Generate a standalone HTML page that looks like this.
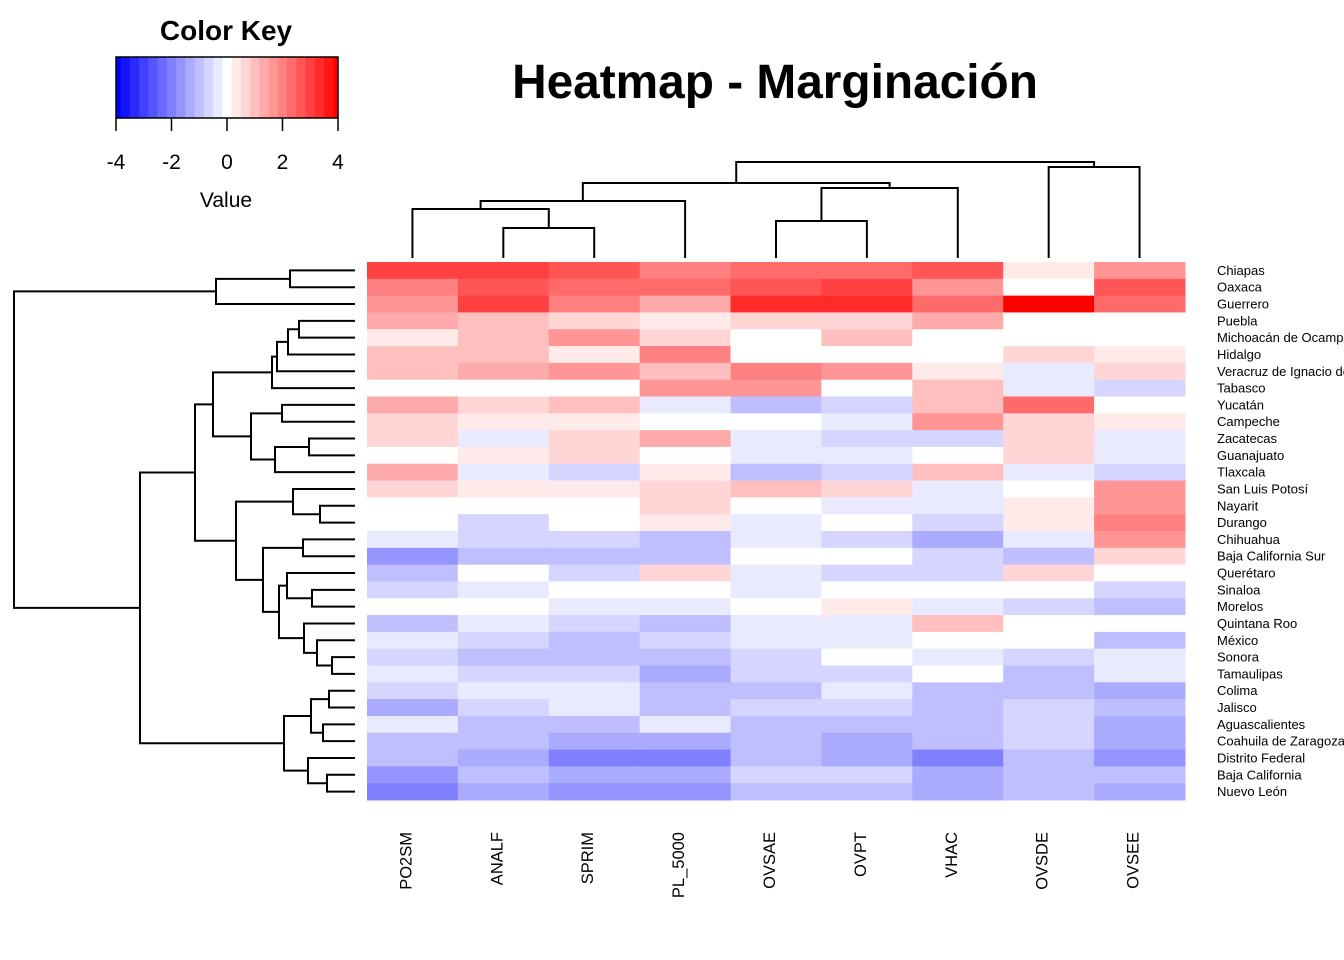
<!DOCTYPE html>
<html><head><meta charset="utf-8"><style>
html,body{margin:0;padding:0;background:#fff;}
svg{display:block;font-family:"Liberation Sans",Arial,sans-serif;}
</style></head><body>
<svg id="chart" width="1344" height="960" viewBox="0 0 1344 960" xmlns="http://www.w3.org/2000/svg">
<text x="775" y="98" font-size="47.8" font-weight="bold" text-anchor="middle">Heatmap - Marginación</text>
<g id="key"></g>
<g id="cells"></g>
<g id="coldend" stroke="#000" stroke-width="2" fill="none"></g>
<g id="rowdend" stroke="#000" stroke-width="2" fill="none"></g>
<g id="rowlabels"></g>
<g id="collabels"></g>
</svg>
<script>
const columns = ["PO2SM","ANALF","SPRIM","PL_5000","OVSAE","OVPT","VHAC","OVSDE","OVSEE"];
const rows = ["Chiapas","Oaxaca","Guerrero","Puebla","Michoacán de Ocampo","Hidalgo","Veracruz de Ignacio de la Llave","Tabasco","Yucatán","Campeche","Zacatecas","Guanajuato","Tlaxcala","San Luis Potosí","Nayarit","Durango","Chihuahua","Baja California Sur","Querétaro","Sinaloa","Morelos","Quintana Roo","México","Sonora","Tamaulipas","Colima","Jalisco","Aguascalientes","Coahuila de Zaragoza","Distrito Federal","Baja California","Nuevo León"];
const values = [
[3.0,3.0,2.67,2.0,2.33,2.33,2.67,0.33,1.67],
[2.0,2.67,2.33,2.33,2.67,3.0,1.67,0,2.67],
[1.67,3.0,2.0,1.33,3.33,3.33,2.33,4.0,2.33],
[1.33,1.0,0.67,0.33,0.67,0.67,1.33,0,0],
[0.33,1.0,1.67,0.67,0,1.0,0,0,0],
[1.0,1.0,0.33,2.0,0,0,0,0.67,0.33],
[1.0,1.33,1.67,1.0,2.0,1.67,0.33,-0.33,0.67],
[0,0,0,1.67,1.67,0,1.0,-0.33,-0.67],
[1.33,0.67,1.0,-0.33,-1.0,-0.67,1.0,2.33,0],
[0.67,0.33,0.33,0,0,-0.33,1.67,0.67,0.33],
[0.67,-0.33,0.67,1.33,-0.33,-0.67,-0.67,0.67,-0.33],
[0,0.33,0.67,0,-0.33,-0.33,0,0.67,-0.33],
[1.33,-0.33,-0.67,0.33,-1.0,-0.67,1.0,-0.33,-0.67],
[0.67,0.33,0.33,0.67,1.0,0.67,-0.33,0,1.67],
[0,0,0,0.67,0,-0.33,-0.33,0.33,1.67],
[0,-0.67,0,0.33,-0.33,0,-0.67,0.33,2.0],
[-0.33,-0.67,-0.67,-1.0,-0.33,-0.67,-1.33,-0.33,1.67],
[-1.6,-1.0,-1.0,-1.0,0,0,-0.67,-1.0,0.67],
[-1.0,0,-0.67,0.67,-0.33,-0.67,-0.67,0.67,0],
[-0.67,-0.33,0,0,-0.33,0,0,0,-0.67],
[0,0,-0.33,-0.33,0,0.33,-0.33,-0.67,-1.0],
[-1.0,-0.33,-0.67,-1.0,-0.33,-0.33,1.0,0,0],
[-0.33,-0.67,-1.0,-0.67,-0.33,-0.33,0,0,-1.0],
[-0.67,-1.0,-1.0,-1.0,-0.67,0,-0.33,-0.67,-0.33],
[-0.33,-0.67,-0.67,-1.33,-0.67,-0.67,0,-1.0,-0.33],
[-0.67,-0.33,-0.33,-1.0,-1.0,-0.33,-1.0,-1.0,-1.33],
[-1.33,-0.67,-0.33,-1.0,-0.67,-0.67,-1.0,-0.67,-1.0],
[-0.33,-1.0,-1.0,-0.33,-1.0,-1.0,-1.0,-0.67,-1.33],
[-1.0,-1.0,-1.33,-1.33,-1.0,-1.33,-1.0,-0.67,-1.33],
[-1.0,-1.33,-1.87,-2.1,-1.0,-1.33,-1.87,-1.0,-1.6],
[-1.6,-1.0,-1.33,-1.33,-0.67,-0.67,-1.33,-1.0,-1.0],
[-2.1,-1.33,-1.6,-1.6,-1.0,-1.0,-1.33,-1.0,-1.33]
];
const keyTicks = [-4,-2,0,2,4];
// Dendrogram trees: [left,right,height]; leaves are indices
const colTree = [[[[0,[1,2,228],209],3,201],[[4,5,221],6,188],183],[7,8,167],162];
const rA = [[[[3,4,299],5,288],6,277],7,272];
const rB = [[8,9,282],[[10,11,309],12,275],251];
const rC = [13,[14,15,320],293];
const rD = [[16,17,303],[[18,[19,20,312],287],[21,[22,[23,24,332],317],304],279],263];
const rLow = [[[25,26,329],[27,28,323],311],[29,[30,31,327],308],284];
const rowTree = [[[0,1,290],2,216],[[[rA,rB,213],[rC,rD,236],195],rLow,140],14];

const NS="http://www.w3.org/2000/svg";
const X0=367,X1=1185,Y0=262,Y1=800;
const cw=(X1-X0)/columns.length, rh=(Y1-Y0)/rows.length;
function xCol(i){return X0+cw*i;}
function yRow(i){return Y0+rh*i;}
function colorOf(v){
  let t=Math.min(12,Math.round(Math.abs(v)*3))/12;
  const c=Math.round(255*(1-t));
  return v>=0?`rgb(255,${c},${c})`:`rgb(${c},${c},255)`;
}
function mk(tag,attrs,parent){const e=document.createElementNS(NS,tag);for(const k in attrs)e.setAttribute(k,attrs[k]);parent.appendChild(e);return e;}

const cells=document.getElementById('cells');
values.forEach((r,i)=>r.forEach((v,j)=>{
  const e=mk('rect',{x:xCol(j),y:yRow(i),width:cw+0.5,height:rh+0.5,fill:colorOf(v)},cells);
  
  
}));

const rl=document.getElementById('rowlabels');
rows.forEach((n,i)=>{
  const t=mk('text',{x:1217,y:yRow(i)+rh/2+4.5,'font-size':13},rl);t.textContent=n;
  
  
});
const cl=document.getElementById('collabels');
columns.forEach((n,j)=>{
  const cx=xCol(j)+cw/2-1;
  const t=mk('text',{x:cx,y:832,'font-size':16.5,'text-anchor':'end',transform:`rotate(-90 ${cx} 832)`},cl);t.textContent=n;
  
  
});

const cd=document.getElementById('coldend');
function drawCol(n){
  if(typeof n==='number') return {x:xCol(n)+cw/2,y:258};
  const a=drawCol(n[0]),b=drawCol(n[1]),h=n[2];
  mk('path',{d:`M${a.x},${a.y}V${h}H${b.x}V${b.y}`},cd);
  return {x:(a.x+b.x)/2,y:h};
}
drawCol(colTree);
const rd=document.getElementById('rowdend');
function drawRow(n){
  if(typeof n==='number') return {y:yRow(n)+rh/2,x:355};
  const a=drawRow(n[0]),b=drawRow(n[1]),h=n[2];
  mk('path',{d:`M${a.x},${a.y}H${h}V${b.y}H${b.x}`},rd);
  return {y:(a.y+b.y)/2,x:h};
}
drawRow(rowTree);

const key=document.getElementById('key');
const KX0=116,KX1=338,KY0=57,KY1=118;
function kx(v){return KX0+(v+4)/8*(KX1-KX0);}
const steps=48;
for(let i=0;i<steps;i++){
  const v0=-4+8*i/steps,v1=-4+8*(i+1)/steps;
  mk('rect',{x:kx(v0),y:KY0,width:kx(v1)-kx(v0)+0.4,height:KY1-KY0,fill:colorOf((v0+v1)/2)},key);
}
mk('rect',{x:KX0,y:KY0,width:KX1-KX0,height:KY1-KY0,fill:'none',stroke:'#000','stroke-width':1.5},key);
keyTicks.forEach(v=>{
  mk('line',{x1:kx(v),x2:kx(v),y1:KY1,y2:131,stroke:'#000','stroke-width':1.5},key);
  const t=mk('text',{x:kx(v),y:169,'font-size':21,'text-anchor':'middle'},key);t.textContent=v;
  
  
});
const kt=mk('text',{x:226,y:40,'font-size':28,'font-weight':'bold','text-anchor':'middle'},key);kt.textContent='Color Key';


const kv=mk('text',{x:226,y:207,'font-size':21,'text-anchor':'middle'},key);kv.textContent='Value';


</script>
</body></html>
